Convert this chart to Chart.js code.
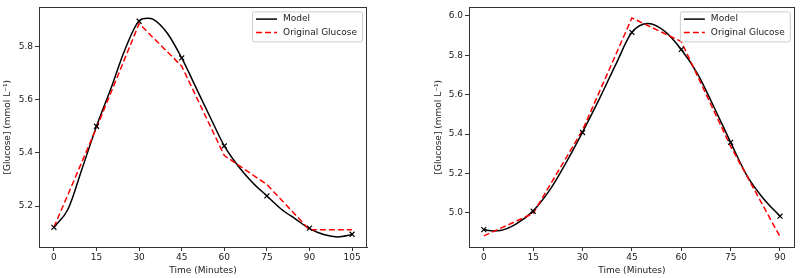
<!DOCTYPE html>
<html>
<head>
<meta charset="utf-8">
<script src="https://cdn.jsdelivr.net/npm/chart.js@4/dist/chart.umd.min.js"></script>
<style>
  html, body { margin: 0; padding: 0; background: #fff; }
  .wrap { position: absolute; top: 0; width: 400px; height: 278px; }
</style>
</head>
<body>
<div class="wrap" style="left:0"><canvas id="chartA"></canvas></div>
<div class="wrap" style="left:400px"><canvas id="chartB"></canvas></div>
<script>
// left panel
const timeA = [0, 15, 30, 45, 60, 75, 90, 105];
const glucoseA = [5.12, 5.494, 5.886, 5.726, 5.39, 5.281, 5.111, 5.111];
const fitA = [5.12, 5.50, 5.895, 5.757, 5.426, 5.238, 5.117, 5.094];
const modelTimeA = [0, 5, 10, 15, 20, 25, 30, 33, 35, 40, 45, 50, 55, 60, 65, 70, 75, 80, 85, 90, 95, 100, 105];
const modelA = [5.12, 5.189, 5.343, 5.50, 5.64, 5.788, 5.896, 5.906, 5.902, 5.849, 5.757, 5.646, 5.535, 5.426, 5.349, 5.288, 5.238, 5.189, 5.152, 5.115, 5.093, 5.084, 5.093];
const xTicksA = [0, 15, 30, 45, 60, 75, 90, 105];
const yTicksA = [5.2, 5.4, 5.6, 5.8];

// right panel
const timeB = [0, 15, 30, 45, 60, 75, 90];
const glucoseB = [4.883, 4.997, 5.42, 5.99, 5.87, 5.338, 4.879];
const fitB = [4.915, 5.008, 5.408, 5.917, 5.83, 5.358, 4.983];
const modelTimeB = [0, 3, 5, 10, 15, 20, 25, 30, 35, 40, 45, 50, 55, 60, 65, 70, 75, 80, 85, 90];
const modelB = [4.915, 4.908, 4.91, 4.945, 5.01, 5.115, 5.255, 5.41, 5.575, 5.75, 5.917, 5.962, 5.922, 5.83, 5.705, 5.535, 5.358, 5.188, 5.072, 4.983];
const xTicksB = [0, 15, 30, 45, 60, 75, 90];
const yTicksB = [5.0, 5.2, 5.4, 5.6, 5.8, 6.0];

const FONT = 'DejaVu Sans';
const TXT = '#222';

// frame around plot + matplotlib style legend
const framePlugin = {
  id: 'frameLegend',
  afterDatasetsDraw(chart) {
    const ctx = chart.ctx;
    const a = chart.chartArea;
    ctx.save();
    ctx.strokeStyle = '#333';
    ctx.lineWidth = 1;
    ctx.strokeRect(Math.round(a.left) + 0.5, Math.round(a.top) + 0.5,
      Math.round(a.right - a.left) - 1, Math.round(a.bottom - a.top));

    const items = chart.data.datasets.filter(d => d.label);
    ctx.font = '9px "' + FONT + '"';
    let tw = 0;
    items.forEach(d => { tw = Math.max(tw, ctx.measureText(d.label).width); });
    const w = 4 + 21 + 6 + tw + 5;
    const h = 30;
    const x0 = a.right - 5 - w;
    const y0 = a.top + 4;
    ctx.beginPath();
    ctx.roundRect(x0 + 0.5, y0 + 0.5, w, h, 2);
    ctx.fillStyle = 'rgba(255,255,255,0.85)';
    ctx.fill();
    ctx.strokeStyle = '#cccccc';
    ctx.stroke();
    items.forEach((d, i) => {
      const yy = y0 + 7.7 + i * 13.3;
      ctx.beginPath();
      ctx.setLineDash(d.borderDash || []);
      ctx.strokeStyle = d.borderColor;
      ctx.lineWidth = d.borderWidth;
      ctx.moveTo(x0 + 4, yy);
      ctx.lineTo(x0 + 25, yy);
      ctx.stroke();
      ctx.setLineDash([]);
      ctx.fillStyle = TXT;
      ctx.textBaseline = 'middle';
      ctx.fillText(d.label, x0 + 31, yy);
    });
    ctx.restore();
  }
};

function makeChart(id, times, glucose, fit, modelTime, model, xTicks, yTicks, xr, yr, pad, yWidth) {
  return new Chart(document.getElementById(id), {
    type: 'scatter',
    data: {
      datasets: [
        {
          label: 'Model',
          data: modelTime.map((t, i) => ({ x: t, y: model[i] })),
          showLine: true,
          borderColor: '#000',
          borderWidth: 1.5,
          pointRadius: 0,
          cubicInterpolationMode: 'monotone',
          order: 2
        },
        {
          label: 'Original Glucose',
          data: times.map((t, i) => ({ x: t, y: glucose[i] })),
          showLine: true,
          borderColor: '#ff0000',
          borderWidth: 1.5,
          borderDash: [6, 3],
          pointRadius: 0,
          order: 1
        },
        {
          data: times.map((t, i) => ({ x: t, y: fit[i] })),
          showLine: false,
          pointStyle: 'crossRot',
          pointRadius: 3.5,
          borderColor: '#000',
          borderWidth: 1.2,
          order: 0
        }
      ]
    },
    options: {
      responsive: false,
      animation: false,
      layout: { padding: pad },
      plugins: { legend: { display: false }, tooltip: { enabled: false } },
      scales: {
        x: {
          type: 'linear',
          min: xr[0], max: xr[1],
          afterBuildTicks: s => { s.ticks = xTicks.map(v => ({ value: v })); },
          afterFit: s => { s.height = 31; },
          grid: { drawOnChartArea: false, tickLength: 4, color: '#333' },
          border: { color: '#333' },
          ticks: { color: TXT, font: { family: FONT, size: 9 }, padding: 1, maxRotation: 0 },
          title: { display: true, text: 'Time (Minutes)', color: TXT, font: { family: FONT, size: 9 }, padding: { top: 0, bottom: 2 } }
        },
        y: {
          min: yr[0], max: yr[1],
          afterBuildTicks: s => { s.ticks = yTicks.map(v => ({ value: v })); },
          afterFit: s => { s.width = yWidth; },
          grid: { drawOnChartArea: false, tickLength: 4, color: '#333' },
          border: { color: '#333' },
          ticks: { color: TXT, font: { family: FONT, size: 9 }, padding: 2, callback: v => v.toFixed(1) },
          title: { display: true, text: '[Glucose] (mmol L\u207B\u00B9)', color: TXT, font: { family: FONT, size: 9 }, padding: { top: 2, bottom: 0 } }
        }
      }
    },
    plugins: [framePlugin]
  });
}

function sizeCanvas(id) {
  const c = document.getElementById(id);
  c.width = 400; c.height = 278;
  c.style.width = '400px'; c.style.height = '278px';
}
sizeCanvas('chartA');
sizeCanvas('chartB');

makeChart('chartA', timeA, glucoseA, fitA, modelTimeA, modelA, xTicksA, yTicksA,
  [-5.25, 110.25], [5.046, 5.947], { left: 0, top: 4, right: 33, bottom: 0 }, 39);
makeChart('chartB', timeB, glucoseB, fitB, modelTimeB, modelB, xTicksB, yTicksB,
  [-4.5, 94.5], [4.8265, 6.0435], { left: 31.5, top: 4, right: 4, bottom: 0 }, 37.5);
</script>
</body>
</html>
